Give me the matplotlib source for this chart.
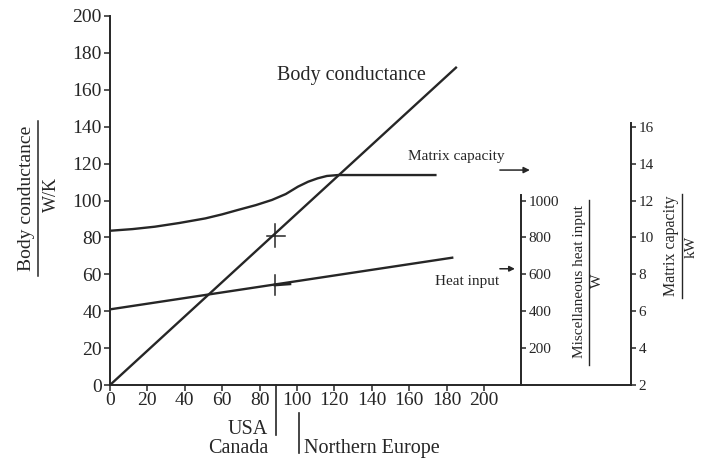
import matplotlib
matplotlib.use('Agg')
import matplotlib.pyplot as plt
from matplotlib.lines import Line2D

plt.rcParams['font.family'] = ['Liberation Serif', 'DejaVu Serif']

INK = '#262626'
W, H = 707, 458

# body conductance (W/K) against the x quantity
body_x = [0, 185]
body_y = [0, 172]

# miscellaneous heat input (W), straight line
heat_x = [0, 183]
heat_y = [410, 690]

# matrix capacity (kW)
matrix_x = [0, 12, 24, 37, 51, 60, 68.5, 78, 86.6, 94, 100.5, 106, 111, 116, 122, 174]
matrix_y = [10.36, 10.45, 10.58, 10.78, 11.03, 11.25, 11.49, 11.75, 12.03, 12.35,
            12.75, 13.02, 13.2, 13.33, 13.38, 13.38]

# little design-point crosses
cross_x = 88.2
body_cross_y = 81
heat_cross_y = 54.2

x_ticks = [0, 20, 40, 60, 80, 100, 120, 140, 160, 180, 200]
y_ticks = [0, 20, 40, 60, 80, 100, 120, 140, 160, 180, 200]
heat_ticks = [200, 400, 600, 800, 1000]
matrix_ticks = [2, 4, 6, 8, 10, 12, 14, 16]

# region split on the x axis
usa_x = 89
europe_x = 101


def fx(px):
    return px / W


def fy(py):
    return 1 - py / H


fig = plt.figure(figsize=(W / 100, H / 100), dpi=100)
ax = fig.add_axes([fx(110), fy(385), fx(650) - fx(110), fy(16) - fy(385)])
xmax = (650 - 110) / 1.87
ax.set_xlim(0, xmax)
ax.set_ylim(0, 200)

misc_pos = (521 - 110) / 1.87
mat_pos = (631 - 110) / 1.87

for s in ['top', 'right']:
    ax.spines[s].set_visible(False)
ax.spines['left'].set_bounds(0, 200)
ax.spines['bottom'].set_bounds(0, mat_pos)
for s in ['left', 'bottom']:
    ax.spines[s].set_linewidth(1.4)
    ax.spines[s].set_color(INK)
ax.set_xticks(x_ticks)
ax.set_yticks(y_ticks)
ax.tick_params(colors=INK, labelsize=14, length=4, width=1.1, pad=2)
ax.tick_params(axis='x', pad=1)
ax.patch.set_alpha(0)

ax_m = ax.twinx()
ax_m.set_ylim(0, 2000)
ax_c = ax.twinx()
ax_c.set_ylim(2, 22)
for a in (ax_m, ax_c):
    for s in ['top', 'left', 'bottom']:
        a.spines[s].set_visible(False)
    a.spines['right'].set_linewidth(1.4)
    a.spines['right'].set_color(INK)
    a.tick_params(colors=INK, labelsize=11, length=3.5, width=1.1, pad=2)
ax_m.spines['right'].set_position(('data', misc_pos))
ax_m.spines['right'].set_bounds(0, 1030)
ax_m.set_yticks(heat_ticks)
ax_c.spines['right'].set_position(('data', mat_pos))
ax_c.spines['right'].set_bounds(2, 16.2)
ax_c.set_yticks(matrix_ticks)

lw = 1.7
ax.plot(body_x, body_y, color=INK, lw=lw)
ax_m.plot(heat_x, heat_y, color=INK, lw=lw)
ax_c.plot(matrix_x, matrix_y, color=INK, lw=lw)

# crosses
ax.plot([cross_x - 4.4, cross_x + 5.4], [body_cross_y, body_cross_y], color=INK, lw=1.1)
ax.plot([cross_x, cross_x], [body_cross_y - 6, body_cross_y + 6], color=INK, lw=1.1)
ax.plot([cross_x, cross_x + 8], [heat_cross_y, heat_cross_y + 0.6], color=INK, lw=2)
ax.plot([cross_x, cross_x], [heat_cross_y - 5.5, heat_cross_y + 5.5], color=INK, lw=1.1)

# region markers under the axis
ax.plot([usa_x, usa_x], [0, -27], color=INK, lw=1.2, clip_on=False)
ax.plot([europe_x, europe_x], [-15, -37], color=INK, lw=1.2, clip_on=False)
ax.text(usa_x - 4.5, -24, 'USA', ha='right', va='center', fontsize=14.5, color=INK, clip_on=False)
ax.text(usa_x - 4.5, -34.5, 'Canada', ha='right', va='center', fontsize=14.5, color=INK, clip_on=False)
ax.text(europe_x + 3, -34.5, 'Northern Europe', ha='left', va='center', fontsize=14.5, color=INK,
        clip_on=False)

# curve labels
ax.text(129, 168, 'Body conductance', ha='center', va='center', fontsize=14.5, color=INK)
ax.text(185, 124, 'Matrix capacity', ha='center', va='center', fontsize=11, color=INK)
ax.annotate('', xy=(226, 116.5), xytext=(207, 116.5),
            arrowprops=dict(arrowstyle='-|>', color=INK, lw=1.1, mutation_scale=9))
ax.text(191, 56, 'Heat input', ha='center', va='center', fontsize=11, color=INK)
ax.annotate('', xy=(218, 63), xytext=(207, 63),
            arrowprops=dict(arrowstyle='-|>', color=INK, lw=1.1, mutation_scale=8))

# axis titles as fractions
fig.text(fx(27), fy(198), 'Body conductance', rotation=90, ha='center', va='center',
         fontsize=14, color=INK)
fig.add_artist(Line2D([fx(38), fx(38)], [fy(276), fy(121)], color=INK, lw=1.1))
fig.text(fx(51), fy(195), 'W/K', rotation=90, ha='center', va='center', fontsize=13, color=INK)

fig.text(fx(580), fy(282), 'Miscellaneous heat input', rotation=90, ha='center', va='center',
         fontsize=11, color=INK)
fig.add_artist(Line2D([fx(589), fx(589)], [fy(365), fy(200)], color=INK, lw=1.0))
fig.text(fx(597), fy(281), 'W', rotation=90, ha='center', va='center', fontsize=11, color=INK)

fig.text(fx(671), fy(246), 'Matrix capacity', rotation=90, ha='center', va='center',
         fontsize=11.5, color=INK)
fig.add_artist(Line2D([fx(682), fx(682)], [fy(298), fy(194)], color=INK, lw=1.0))
fig.text(fx(691), fy(247), 'kW', rotation=90, ha='center', va='center', fontsize=11, color=INK)

fig.savefig('out.png', dpi=100)
